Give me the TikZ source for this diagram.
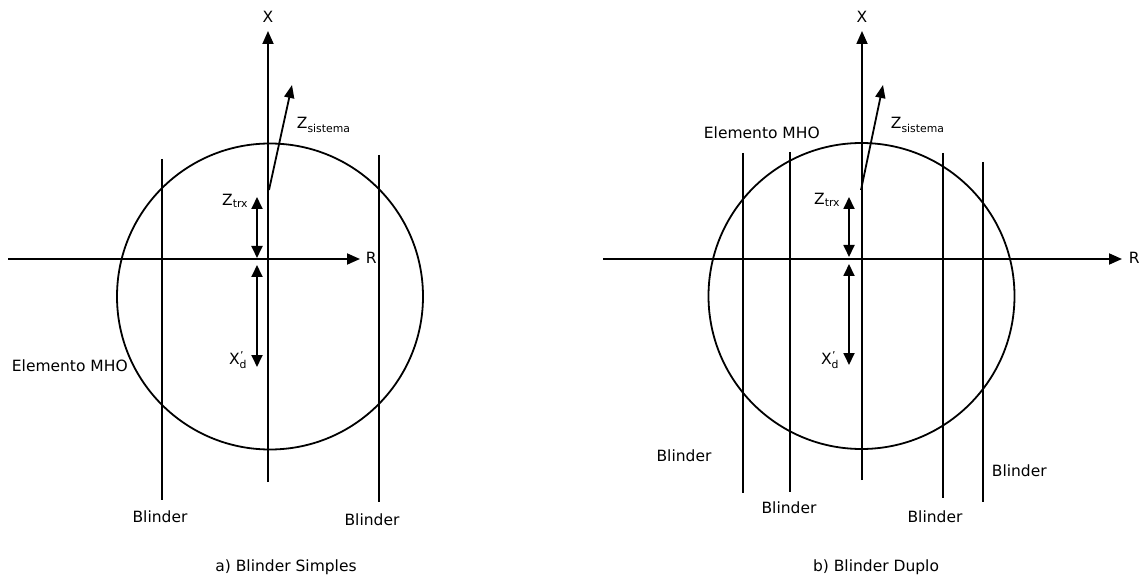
\documentclass[tikz,border=0pt]{standalone}
\usepackage{fontspec}
\setmainfont{DejaVu Sans}
\usetikzlibrary{arrows.meta}
\newcommand{\xdprime}{X\makebox[0pt][l]{\textsuperscript{\kern0.5pt'}}\textsubscript{d}}
\begin{document}
\begin{tikzpicture}[x=1pt,y=-1pt, line width=1.8pt,
  ax/.style={-{Triangle[length=13pt,width=11pt]}},
  za/.style={-{Triangle[length=13pt,width=10pt]}},
  dbl/.style={{Triangle[length=12pt,width=11pt]}-{Triangle[length=12pt,width=11pt]}},
  lbl/.style={font=\fontsize{15.5}{18}\selectfont, inner sep=0pt},
  blind/.style={line width=1.8pt}]
\useasboundingbox (0,0) rectangle (1146,577);

% ---------- a) Blinder Simples ----------
\coordinate (aRl) at (8,259);
\coordinate (aRr) at (360,259);
\coordinate (aXb) at (268,482);
\coordinate (aXt) at (268,31);
\node[lbl, anchor=west] (aR) at (365,258) {R};
\node[lbl] (aX) at (268,17) {X};
\draw[ax] (aRl) -- (aRr);
\draw[ax] (aXb) -- (aXt);
\coordinate (aC) at (270,296.5);
\draw (aC) circle[radius=153];
\coordinate (aB1t) at (162,159); \coordinate (aB1b) at (162,500);
\coordinate (aB2t) at (379,155); \coordinate (aB2b) at (379,502);
\draw[blind] (aB1t) -- (aB1b);
\draw[blind] (aB2t) -- (aB2b);
\coordinate (aZs0) at (269,190); \coordinate (aZs1) at (292,85);
\draw[za] (aZs0) -- (aZs1);
\node[lbl, anchor=west] (aZs) at (296,125) {Z\textsubscript{sistema}};
\coordinate (aZt0) at (257,197); \coordinate (aZt1) at (257,258);
\draw[dbl] (aZt0) -- (aZt1);
\coordinate (aXd0) at (257,265); \coordinate (aXd1) at (257,367);
\draw[dbl] (aXd0) -- (aXd1);
\node[lbl, anchor=east] (aZt) at (249,201) {Z\textsubscript{trx}};
\node[lbl, anchor=east] (aXd) at (248,360) {\xdprime};
\node[lbl] (aBl1) at (160,517) {Blinder};
\node[lbl] (aBl2) at (372,520) {Blinder};
\node[lbl, anchor=west] (aMHO) at (11,366) {Elemento MHO};
\node[lbl] (aCap) at (286,567) {a) Blinder Simples};

% ---------- b) Blinder Duplo ----------
\coordinate (bRl) at (603,259);
\coordinate (bRr) at (1122,259);
\coordinate (bXb) at (862,480);
\coordinate (bXt) at (862,31);
\node[lbl, anchor=west] (bR) at (1128,258) {R};
\node[lbl] (bX) at (862,17) {X};
\draw[ax] (bRl) -- (bRr);
\draw[ax] (bXb) -- (bXt);
\coordinate (bC) at (861.5,296);
\draw (bC) circle[radius=153];
\coordinate (bB1t) at (743,153); \coordinate (bB1b) at (743,493);
\coordinate (bB2t) at (790,152); \coordinate (bB2b) at (790,492);
\coordinate (bB3t) at (943,153); \coordinate (bB3b) at (943,498);
\coordinate (bB4t) at (983,162); \coordinate (bB4b) at (983,502);
\draw[blind] (bB1t) -- (bB1b);
\draw[blind] (bB2t) -- (bB2b);
\draw[blind] (bB3t) -- (bB3b);
\draw[blind] (bB4t) -- (bB4b);
\coordinate (bZs0) at (861,190); \coordinate (bZs1) at (883,85);
\draw[za] (bZs0) -- (bZs1);
\node[lbl, anchor=west] (bZs) at (890,125) {Z\textsubscript{sistema}};
\coordinate (bZt0) at (849,197); \coordinate (bZt1) at (849,257);
\draw[dbl] (bZt0) -- (bZt1);
\coordinate (bXd0) at (849,264); \coordinate (bXd1) at (849,365);
\draw[dbl] (bXd0) -- (bXd1);
\node[lbl, anchor=east] (bZt) at (841,200) {Z\textsubscript{trx}};
\node[lbl, anchor=east] (bXd) at (840,360) {\xdprime};
\node[lbl] (bBl1) at (684,456) {Blinder};
\node[lbl] (bBl2) at (789,508) {Blinder};
\node[lbl] (bBl3) at (935,517) {Blinder};
\node[lbl, anchor=west] (bBl4) at (991,471) {Blinder};
\node[lbl, anchor=west] (bMHO) at (703,133) {Elemento MHO};
\node[lbl] (bCap) at (876,567) {b) Blinder Duplo};
\end{tikzpicture}
\end{document}
